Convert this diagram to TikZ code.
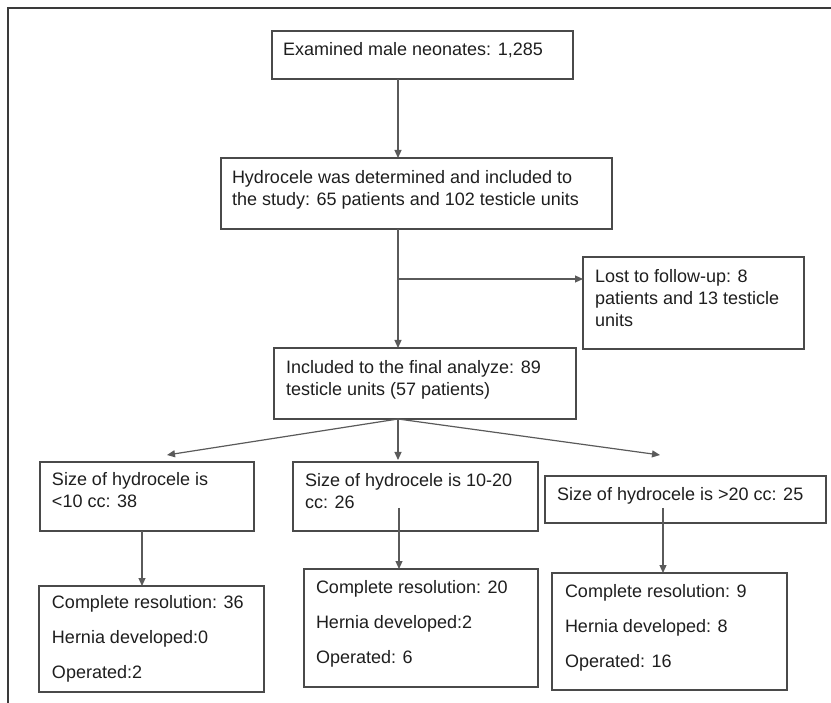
\documentclass[tikz,border=0pt]{standalone}
\usepackage{fontspec}
\setmainfont{Liberation Sans}
\usetikzlibrary{arrows.meta}
\definecolor{linec}{HTML}{5A5A5A}
\definecolor{boxc}{HTML}{4A4A4A}
\definecolor{framec}{HTML}{3A3A3A}
\definecolor{txtc}{HTML}{1E1E1E}
\begin{document}
\begin{tikzpicture}[x=1pt,y=-1pt,
  box/.style={draw=boxc, line width=1.3pt, inner sep=0pt, outer sep=0pt, anchor=north west},
  txt/.style={anchor=north west, inner sep=0pt, outer sep=0pt, align=left, text=txtc, font=\fontsize{18}{22}\selectfont},
  txtw/.style={txt, font=\fontsize{18}{35}\selectfont},
  arr/.style={draw=linec, line width=1.2pt, -{Triangle[length=8pt,width=7pt]}},
  ln/.style={draw=linec, line width=1.2pt}]
\useasboundingbox (0,0) rectangle (831,703);
% frame
\draw[framec, line width=1.5pt] (8,703) -- (8,8) -- (831,8);
% boxes
\node[box, minimum width=301pt, minimum height=48pt] (b1) at (272,31) {};
\node[box, minimum width=391pt, minimum height=71pt] (b2) at (221,158) {};
\node[box, minimum width=221pt, minimum height=92pt] (lost) at (583,257) {};
\node[box, minimum width=302pt, minimum height=71pt] (inc) at (274,348) {};
\node[box, minimum width=214pt, minimum height=69pt] (sA) at (40,462) {};
\node[box, minimum width=245pt, minimum height=69pt] (sB) at (293,462) {};
\node[box, minimum width=281pt, minimum height=47pt] (sC) at (545,476) {};
\node[box, minimum width=225pt, minimum height=106pt] (rA) at (39,586) {};
\node[box, minimum width=234pt, minimum height=118pt] (rB) at (304,569) {};
\node[box, minimum width=235pt, minimum height=117pt] (rC) at (552,573) {};
% texts
\node[txt] (t1) at (283,42) {Examined male neonates: 1,285};
\node[txt] (t2) at (232,170) {Hydrocele was determined and included to\\the study: 65 patients and 102 testicle units};
\node[txt] (tl) at (595,269) {Lost to follow-up: 8\\patients and 13 testicle\\units};
\node[txt] (ti) at (286,360) {Included to the final analyze: 89\\testicle units (57 patients)};
\node[txt] (tsA) at (52,472) {Size of hydrocele is\\<10 cc: 38};
\node[txt] (tsB) at (305,473) {Size of hydrocele is 10-20\\cc: 26};
\node[txt] (tsC) at (557,487) {Size of hydrocele is >20 cc: 25};
\node[txtw] (trA) at (52,595) {Complete resolution: 36\\Hernia developed:0\\Operated:2};
\node[txtw] (trB) at (316,580) {Complete resolution: 20\\Hernia developed:2\\Operated: 6};
\node[txtw] (trC) at (565,584) {Complete resolution: 9\\Hernia developed: 8\\Operated: 16};
% connector anchors
\coordinate (spine) at (398,0);
\coordinate (branch) at (398,279);
\coordinate (tipA) at (167,455);
\coordinate (tipC) at (660,455);
\coordinate (tipB) at (398,460);
\coordinate (aA) at (142,531);
\coordinate (aB) at (399,508);
\coordinate (aC) at (663,508);
% connectors
\draw[arr] (b1.south -| spine) -- (b2.north -| spine);
\draw[arr] (b2.south -| spine) -- (inc.north -| spine);
\draw[arr] (branch) -- (lost.west |- branch);
\draw[arr] (inc.south -| spine) -- (tipA);
\draw[arr] (inc.south -| spine) -- (tipB);
\draw[arr] (inc.south -| spine) -- (tipC);
\draw[arr] (aA) -- (rA.north -| aA);
\draw[arr] (aB) -- (rB.north -| aB);
\draw[arr] (aC) -- (rC.north -| aC);
\end{tikzpicture}
\end{document}
